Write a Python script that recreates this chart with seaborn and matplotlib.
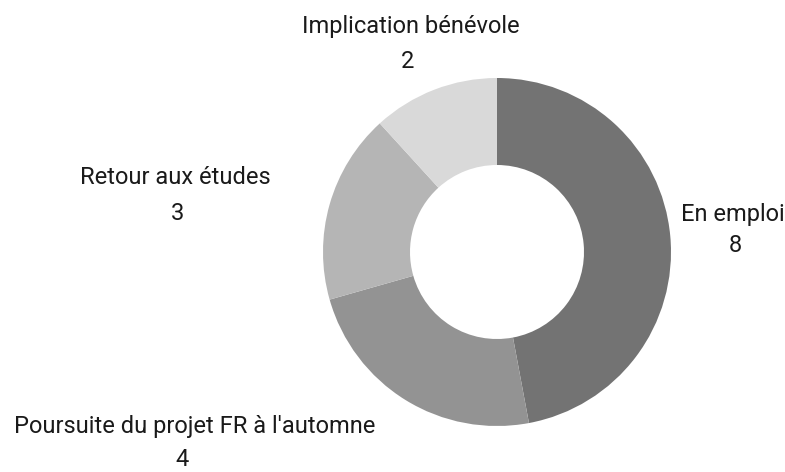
import matplotlib
matplotlib.use("Agg")
import matplotlib.pyplot as plt
import seaborn as sns

categories = ["En emploi", "Poursuite du projet FR à l'automne", "Retour aux études", "Implication bénévole"]
values = [8, 4, 3, 2]
colors = ["#737373", "#939393", "#b5b5b5", "#d9d9d9"]
# label anchor positions (pixels from top-left) for name and value
name_pos = [(733, 214), (195, 427), (175, 177), (411, 26)]
value_pos = [(735, 246), (182, 459), (177, 214), (408, 62)]

sns.set_theme(style="white")
plt.rcParams['font.family'] = ['Roboto', 'DejaVu Sans']

W, H = 785, 472
fig = plt.figure(figsize=(W / 100, H / 100), dpi=100)
ax = fig.add_axes([0, 0, 1, 1])

cx, cy, R = 497, H - 252, 174
ax.pie(values, colors=colors, startangle=90, counterclock=False,
       radius=R, center=(cx, cy), frame=True,
       wedgeprops=dict(width=R * 0.5, linewidth=0))
ax.set_xlim(0, W)
ax.set_ylim(0, H)
ax.set_aspect("equal")
ax.axis("off")

for cat, v, (nx, ny), (vx, vy) in zip(categories, values, name_pos, value_pos):
    ax.text(nx, H - ny, cat, ha="center", va="center", fontsize=17, color="#1a1a1a")
    ax.text(vx, H - vy, str(v), ha="center", va="center", fontsize=17, color="#1a1a1a")

fig.savefig("out.png", dpi=100, facecolor="white")
